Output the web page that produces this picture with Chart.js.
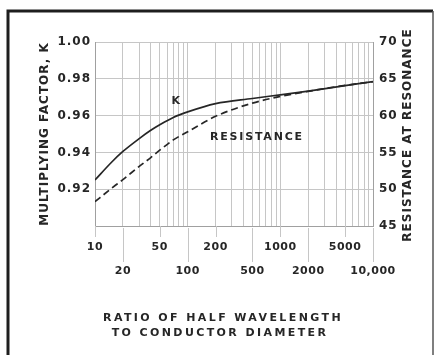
<!DOCTYPE html>
<html>
<head>
<meta charset="utf-8">
<title>Multiplying factor K and resistance at resonance</title>
<script src="https://cdn.jsdelivr.net/npm/chart.js@4.4.1/dist/chart.umd.min.js"></script>
<style>
  html, body { margin: 0; padding: 0; background: #fff; }
  #chart { display: block; }
</style>
</head>
<body>
<canvas id="chart" width="436" height="355"></canvas>
<script>
// ratio of half wavelength to conductor diameter
const ratios = [10, 15, 20, 30, 40, 50, 70, 100, 200, 500, 1000, 2000, 5000, 10000];
// multiplying factor K (left axis)
const kFactor = [0.925, 0.9345, 0.9405, 0.9475, 0.952, 0.955, 0.959, 0.962, 0.9665, 0.9693, 0.9713, 0.9733, 0.9763, 0.9785];
// resistance at resonance, ohms (right axis)
const resistance = [48.3, 50.1, 51.3, 53.1, 54.3, 55.3, 56.7, 57.8, 59.9, 61.7, 62.6, 63.3, 64.1, 64.6];

// x labels, staggered on two rows
const xLabelsTop = [10, 50, 200, 1000, 5000];
const xLabelsBottom = [20, 100, 500, 2000, 10000];
const kTicks = [0.90, 0.92, 0.94, 0.96, 0.98, 1.00];
const rTicks = [45, 50, 55, 60, 65, 70];

const INK = '#262626';
const GRID = '#c6c6c6';
const AXIS = '#a0a0a0';
const FONT = '"DejaVu Sans", sans-serif';

(function () {
  'use strict';

  function toPoints(ys) {
    return ratios.map(function (r, i) { return { x: r, y: ys[i] }; });
  }

  // semi-log paper: lines at 1..9 of every decade
  function decadeLines(min, max) {
    var out = [];
    for (var d = min; d < max; d *= 10) {
      for (var m = 1; m < 10; m++) out.push(d * m);
    }
    out.push(max);
    return out;
  }

  function fmtRatio(v) {
    return v >= 10000 ? v.toLocaleString('en-US') : String(v);
  }

  // outer frame of the figure
  var framePlugin = {
    id: 'frame',
    beforeDraw: function (chart) {
      var ctx = chart.ctx;
      ctx.save();
      ctx.fillStyle = '#fff';
      ctx.fillRect(0, 0, chart.width, chart.height);
      ctx.strokeStyle = '#1e1e1e';
      ctx.lineWidth = 3;
      ctx.beginPath();
      ctx.moveTo(8, chart.height);
      ctx.lineTo(8, 11);
      ctx.lineTo(433, 11);
      ctx.stroke();
      ctx.lineWidth = 1.5;
      ctx.strokeStyle = '#555';
      ctx.beginPath();
      ctx.moveTo(433, 11);
      ctx.lineTo(433, chart.height);
      ctx.stroke();
      ctx.restore();
      // spaced lettering for the axis text drawn by Chart.js
      ctx.letterSpacing = '1px';
    }
  };

  // two-row x labels, their tick marks, titles and curve labels
  var labelsPlugin = {
    id: 'ratioLabels',
    afterDraw: function (chart) {
      var ctx = chart.ctx;
      var x = chart.scales.x;
      var y = chart.scales.y;
      var area = chart.chartArea;
      var base = area.bottom;

      ctx.save();
      ctx.strokeStyle = GRID;
      ctx.lineWidth = 1;
      xLabelsTop.forEach(function (v) {
        var px = Math.round(x.getPixelForValue(v)) + 0.5;
        ctx.beginPath(); ctx.moveTo(px, base); ctx.lineTo(px, base + 11); ctx.stroke();
      });
      xLabelsBottom.forEach(function (v) {
        var px = Math.round(x.getPixelForValue(v)) + 0.5;
        ctx.beginPath(); ctx.moveTo(px, base + 2); ctx.lineTo(px, base + 36); ctx.stroke();
      });

      ctx.fillStyle = INK;
      ctx.textAlign = 'center';
      ctx.textBaseline = 'middle';
      ctx.font = 'bold 11px ' + FONT;
      ctx.letterSpacing = '0.5px';
      xLabelsTop.forEach(function (v) {
        ctx.fillText(fmtRatio(v), x.getPixelForValue(v), base + 21);
      });
      xLabelsBottom.forEach(function (v) {
        ctx.fillText(fmtRatio(v), x.getPixelForValue(v), base + 45);
      });

      ctx.letterSpacing = '2.4px';
      ctx.fillText('RATIO OF HALF WAVELENGTH', 223, 318);
      ctx.fillText('TO CONDUCTOR DIAMETER', 220, 333);

      ctx.letterSpacing = '1.8px';
      ctx.fillText('K', x.getPixelForValue(76), y.getPixelForValue(0.968));
      ctx.textAlign = 'left';
      ctx.fillText('RESISTANCE', x.getPixelForValue(174), y.getPixelForValue(0.9484));

      // right axis title reads bottom to top, like the left one
      ctx.font = 'bold 12px ' + FONT;
      ctx.letterSpacing = '1px';
      ctx.textAlign = 'center';
      ctx.translate(408, (area.top + area.bottom) / 2 + 1);
      ctx.rotate(-Math.PI / 2);
      ctx.fillText('RESISTANCE AT RESONANCE', 0, 0);
      ctx.restore();
    }
  };

  function renderChart() {
    var canvas = document.getElementById('chart');
    if (!canvas || typeof Chart === 'undefined') return;

    var gridLines = decadeLines(10, 10000);
    var tickFont = { family: FONT, size: 12, weight: 'bold' };

    new Chart(canvas.getContext('2d'), {
      type: 'line',
      data: {
        datasets: [{
          label: 'K',
          data: toPoints(kFactor),
          yAxisID: 'y',
          borderColor: INK,
          borderWidth: 1.7,
          pointRadius: 0,
          cubicInterpolationMode: 'monotone',
          fill: false
        }, {
          label: 'RESISTANCE',
          data: toPoints(resistance),
          yAxisID: 'y2',
          borderColor: INK,
          borderWidth: 1.7,
          borderDash: [7, 4],
          pointRadius: 0,
          cubicInterpolationMode: 'monotone',
          fill: false
        }]
      },
      options: {
        responsive: false,
        animation: false,
        events: [],
        layout: { padding: { top: 42, left: 0, right: 0, bottom: 0 } },
        plugins: {
          legend: { display: false },
          tooltip: { enabled: false }
        },
        scales: {
          x: {
            type: 'logarithmic',
            min: 10,
            max: 10000,
            afterBuildTicks: function (scale) {
              scale.ticks = gridLines.map(function (v) { return { value: v }; });
            },
            afterFit: function (scale) { scale.height = 129; },
            ticks: { display: false },
            grid: { color: GRID, lineWidth: 1, drawTicks: false },
            border: { color: AXIS, width: 1 }
          },
          y: {
            position: 'left',
            min: 0.90,
            max: 1.00,
            afterBuildTicks: function (scale) {
              scale.ticks = kTicks.map(function (v) { return { value: v }; });
            },
            afterFit: function (scale) { scale.width = 95; },
            ticks: {
              color: INK,
              font: tickFont,
              padding: 4,
              callback: function (v) { return v < 0.905 ? '' : v.toFixed(2); }
            },
            grid: { color: GRID, lineWidth: 1, drawTicks: false },
            border: { color: AXIS, width: 1 },
            title: {
              display: true,
              text: 'MULTIPLYING FACTOR, K',
              color: INK,
              font: { family: FONT, size: 12, weight: 'bold' },
              padding: { top: 38, bottom: 0 }
            }
          },
          y2: {
            position: 'right',
            min: 45,
            max: 70,
            afterBuildTicks: function (scale) {
              scale.ticks = rTicks.map(function (v) { return { value: v }; });
            },
            afterFit: function (scale) { scale.width = 63; },
            ticks: {
              color: INK,
              font: tickFont,
              padding: 6,
              callback: function (v) { return String(v); }
            },
            grid: { drawOnChartArea: false, drawTicks: false },
            border: { color: AXIS, width: 1 }
          }
        }
      },
      plugins: [framePlugin, labelsPlugin]
    });
  }

  if (document.readyState === 'loading') {
    document.addEventListener('DOMContentLoaded', renderChart);
  } else {
    renderChart();
  }
})();
</script>
</body>
</html>
